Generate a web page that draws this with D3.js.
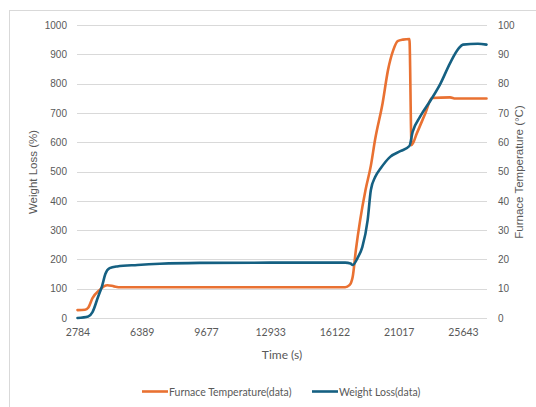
<!DOCTYPE html>
<html>
<head>
<meta charset="utf-8">
<script src="https://cdn.jsdelivr.net/npm/d3@7"></script>
<style>
  html, body { margin: 0; padding: 0; background: #fff; }
  svg { display: block; }
</style>
</head>
<body>
<svg id="chart" width="536" height="407"></svg>
<script>
// Category axis: sample index positions and their time labels (s)
const tickIndex = [0, 30, 60, 90, 120, 150, 180];
const tickLabels = ["2784", "6389", "9677", "12933", "16122", "21017", "25643"];
const lastIndex = 191;

// Left-axis ticks and right-axis ticks
const leftTicks = [0, 100, 200, 300, 400, 500, 600, 700, 800, 900, 1000];
const rightTicks = [0, 10, 20, 30, 40, 50, 60, 70, 80, 90, 100];

// Furnace Temperature(data): [sample index, value] (left axis)
const furnaceTemp = [
  [0, 27], [3.5, 28], [5, 35], [7, 68], [10.5, 97], [12.3, 108], [14, 112],
  [17, 108], [20, 105], [60, 105], [100, 105], [125, 105], [127, 112],
  [128.5, 140], [130, 232], [132, 334], [134.5, 437], [137, 520], [139, 610],
  [142.5, 734], [145, 846], [147.5, 915], [149.5, 945], [152, 950], [155, 952],
  [156, 590], [158.5, 631], [162.5, 700], [165.5, 751], [174, 753],
  [176.5, 749], [191, 749]
];

// Weight Loss(data): [sample index, value] (right axis)
const weightLoss = [
  [0, 0], [5, 0.5], [7, 2], [9.5, 7], [11.5, 11], [13, 15], [15, 17],
  [18.5, 17.6], [28, 18.1], [38.5, 18.5], [57, 18.8], [90, 18.9], [125, 18.9],
  [127.5, 18.6], [128.5, 18.1], [131, 20.8], [133, 24.2], [135.5, 33.4],
  [137, 43.7], [139, 48.1], [141.5, 51], [146, 55], [151, 57], [155, 58.7],
  [156.5, 63.5], [160, 68.7], [165, 74.4], [169.5, 80], [174, 87], [178, 92],
  [180, 93.3], [187, 93.6], [191, 93.3]
];

const orange = "#E97132";
const blue = "#156082";
const textColor = "#595959";
const gridColor = "#d9d9d9";

const svg = d3.select("#chart");

// outer chart frame
svg.append("rect")
  .attr("x", 9.5).attr("y", 10.5)
  .attr("width", 600).attr("height", 500)
  .attr("fill", "#fff")
  .attr("stroke", gridColor).attr("stroke-width", 1);

const plotLeft = 77, plotRight = 487, plotTop = 25, plotBottom = 318;

const x = d3.scaleLinear().domain([0, lastIndex]).range([plotLeft + 0.5, plotRight - 0.5]);
const yL = d3.scaleLinear().domain([0, 1000]).range([plotBottom, plotTop]);
const yR = d3.scaleLinear().domain([0, 100]).range([plotBottom, plotTop]);

// gridlines
svg.append("g").selectAll("line").data(leftTicks).join("line")
  .attr("x1", plotLeft).attr("x2", plotRight)
  .attr("y1", d => Math.round(yL(d)) + 0.5).attr("y2", d => Math.round(yL(d)) + 0.5)
  .attr("stroke", gridColor).attr("stroke-width", 1);

// left axis labels
const leftAxis = d3.axisLeft(yL).tickValues(leftTicks).tickFormat(d3.format("d"))
  .tickSize(0).tickPadding(0);
const gL = svg.append("g").attr("transform", `translate(67,0)`).call(leftAxis);
gL.select(".domain").remove();
gL.selectAll("text").attr("fill", textColor)
  .style("font-family", "'Liberation Sans', Arial, sans-serif").style("font-size", "10px");

// right axis labels
const rightAxis = d3.axisRight(yR).tickValues(rightTicks).tickFormat(d3.format("d"))
  .tickSize(0).tickPadding(0);
const gR = svg.append("g").attr("transform", `translate(498,0)`).call(rightAxis);
gR.select(".domain").remove();
gR.selectAll("text").attr("fill", textColor)
  .style("font-family", "'Liberation Sans', Arial, sans-serif").style("font-size", "10px");

// bottom axis labels
const bottomAxis = d3.axisBottom(x).tickValues(tickIndex)
  .tickFormat((d, i) => tickLabels[i]).tickSize(0).tickPadding(0);
const gB = svg.append("g").attr("transform", `translate(0,329)`).call(bottomAxis);
gB.select(".domain").remove();
gB.selectAll("text").attr("fill", textColor)
  .style("font-family", "Lato, sans-serif").style("font-size", "10.5px");

// lines
const lineL = d3.line().x(d => x(d[0])).y(d => yL(d[1])).curve(d3.curveMonotoneX);
const lineR = d3.line().x(d => x(d[0])).y(d => yR(d[1])).curve(d3.curveMonotoneX);

svg.append("path").datum(furnaceTemp).attr("d", lineL)
  .attr("fill", "none").attr("stroke", orange).attr("stroke-width", 2.6)
  .attr("stroke-linejoin", "round").attr("stroke-linecap", "round");
svg.append("path").datum(weightLoss).attr("d", lineR)
  .attr("fill", "none").attr("stroke", blue).attr("stroke-width", 2.6)
  .attr("stroke-linejoin", "round").attr("stroke-linecap", "round");

// axis titles
svg.append("text")
  .attr("transform", "translate(37,172) rotate(-90)")
  .attr("text-anchor", "middle").attr("fill", textColor)
  .style("font-family", "'Liberation Sans', Arial, sans-serif").style("font-size", "11.5px")
  .text("Weight Loss (%)");

svg.append("text")
  .attr("transform", "translate(523,172) rotate(-90)")
  .attr("text-anchor", "middle").attr("fill", textColor)
  .style("font-family", "'Liberation Sans', Arial, sans-serif").style("font-size", "11.5px")
  .text("Furnace Temperature (°C)");

svg.append("text")
  .attr("x", 282).attr("y", 359)
  .attr("text-anchor", "middle").attr("fill", textColor)
  .style("font-family", "Lato, sans-serif").style("font-size", "12px")
  .text("Time (s)");

// legend
const legend = [
  { name: "Furnace Temperature(data)", color: orange, x: 142 },
  { name: "Weight Loss(data)", color: blue, x: 312 }
];
const lg = svg.append("g");
legend.forEach(l => {
  lg.append("line").attr("x1", l.x).attr("x2", l.x + 26)
    .attr("y1", 391.5).attr("y2", 391.5)
    .attr("stroke", l.color).attr("stroke-width", 2.6);
  lg.append("text").attr("x", l.x + 27).attr("y", 395.5)
    .attr("fill", textColor)
    .style("font-family", "Lato, sans-serif").style("font-size", "10.5px")
    .text(l.name);
});
</script>
</body>
</html>
